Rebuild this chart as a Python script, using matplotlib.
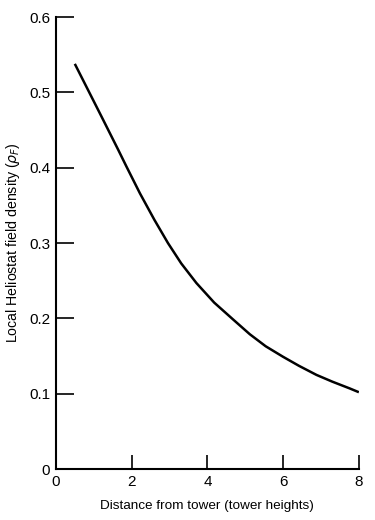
import matplotlib
matplotlib.use('Agg')
import matplotlib.pyplot as plt

# values
distance = [0.5, 1.205, 1.645, 1.86, 2.22, 2.6, 2.96, 3.31, 3.71, 4.18, 4.67,
            5.12, 5.54, 6.0, 6.42, 6.88, 7.3, 7.76, 8.0]
density = [0.538, 0.468, 0.424, 0.402, 0.366, 0.331, 0.300, 0.273, 0.247, 0.221, 0.199,
           0.179, 0.163, 0.149, 0.137, 0.125, 0.116, 0.107, 0.102]

xticks = [0, 2, 4, 6, 8]
yticks = [0, 0.1, 0.2, 0.3, 0.4, 0.5, 0.6]
yticklabels = ['0', '0.1', '0.2', '0.3', '0.4', '0.5', '0.6']

plt.rcParams['font.family'] = ['Liberation Sans', 'DejaVu Sans']
plt.rcParams['mathtext.fontset'] = 'dejavusans'

fig = plt.figure(figsize=(3.75, 5.2), dpi=100)
ax = fig.add_axes([0.149, 0.098, 0.808, 0.869])

ax.plot(distance, density, color='black', lw=1.8, solid_capstyle='butt',
        solid_joinstyle='round')

ax.set_xlim(0, 8)
ax.set_ylim(0, 0.6)
ax.set_xticks(xticks)
ax.set_yticks(yticks)
ax.set_yticklabels(yticklabels)

for side in ['top', 'right']:
    ax.spines[side].set_visible(False)
for side in ['left', 'bottom']:
    ax.spines[side].set_linewidth(1.5)

ax.tick_params(axis='y', direction='in', length=13, width=1.2, labelsize=11, pad=4)
ax.tick_params(axis='x', direction='in', length=10, width=1.2, labelsize=11, pad=4)

ax.set_xlabel('Distance from tower (tower heights)', fontsize=9.7, labelpad=8)
ax.set_ylabel(r'Local Heliostat field density ($\rho_F$)', fontsize=10.2, labelpad=5)

fig.savefig('out.png', dpi=100)
